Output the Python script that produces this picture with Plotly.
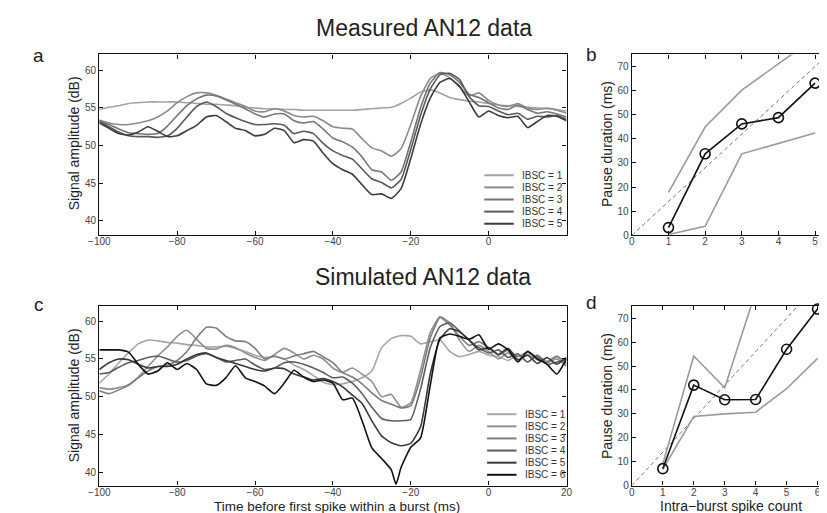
import plotly.graph_objects as go

# time axis (ms before first spike within a burst)
t = [-100, -97.5, -95, -92.5, -90, -87.5, -85, -82.5, -80, -77.5, -75, -72.5, -70,
     -67.5, -65, -62.5, -60, -57.5, -55, -52.5, -50, -47.5, -45, -42.5, -40, -37.5,
     -35, -32.5, -30, -27.5, -25, -22.5, -20, -17.5, -15, -12.5, -10, -7.5, -5, -2.5,
     0, 2.5, 5, 7.5, 10, 12.5, 15, 17.5, 20]

# measured AN12 data (dB), IBSC = 1..5
meas_1 = [54.8, 55.1, 55.3, 55.6, 55.7, 55.8, 55.8, 55.8, 55.8, 55.7, 55.6, 55.5, 55.5,
          55.4, 55.3, 55.1, 55.0, 54.9, 54.9, 54.8, 54.8, 54.7, 54.7, 54.7, 54.7, 54.7,
          54.7, 54.8, 54.9, 55.0, 55.1, 55.6, 56.3, 57.1, 57.4, 57.0, 56.4, 56.1, 55.9, 55.8,
          55.6, 55.4, 55.3, 55.2, 55.1, 55.0, 54.9, 54.8, 54.6]
meas_2 = [53.4, 53.0, 52.8, 52.8, 53.0, 53.3, 53.8, 54.6, 55.7, 56.5, 57.0, 57.0, 56.7,
          56.2, 55.7, 55.2, 54.6, 54.5, 54.9, 54.6, 54.0, 53.8, 53.9, 53.3, 52.5, 52.3,
          52.2, 50.9, 49.7, 49.3, 48.6, 49.6, 52.8, 56.5, 58.9, 59.6, 59.0, 57.8, 56.6, 57.0,
          56.0, 55.4, 55.2, 55.6, 55.0, 54.8, 55.0, 54.7, 54.3]
meas_3 = [53.3, 52.8, 52.2, 51.7, 51.6, 51.5, 51.6, 52.6, 54.0, 55.3, 56.2, 56.7, 56.6,
          56.1, 55.5, 54.9, 54.2, 53.8, 54.2, 54.2, 53.3, 53.0, 53.2, 52.2, 51.0, 50.5,
          49.8, 48.5, 46.8, 46.5, 45.4, 46.5, 50.5, 55.0, 58.3, 59.7, 59.4, 58.4, 56.8, 56.4,
          55.7, 55.0, 54.8, 55.4, 54.8, 54.3, 54.5, 54.2, 53.8]
meas_4 = [53.2, 52.5, 51.8, 51.3, 51.2, 51.2, 51.1, 51.3, 52.3, 53.8, 55.2, 55.8, 55.2,
          54.3, 53.7, 53.2, 52.8, 52.8, 52.9, 52.7, 51.6, 51.9, 51.6, 50.3, 49.3, 48.7,
          48.2, 46.9, 45.6, 45.1, 44.4, 45.5, 49.5, 54.0, 57.5, 59.4, 59.6, 58.8, 56.5, 55.3,
          55.2, 54.6, 54.1, 54.3, 53.5, 53.9, 53.8, 54.0, 53.5]
meas_5 = [53.0, 52.3, 51.6, 51.4, 51.8, 52.5, 51.9, 51.2, 51.3, 52.0, 52.7, 53.8, 54.0,
          53.2, 52.3, 52.0, 51.3, 51.5, 52.3, 52.0, 50.4, 50.8, 50.6, 49.0, 47.6, 46.8,
          46.2, 44.8, 43.5, 43.6, 43.0, 44.3, 48.3, 52.8, 56.3, 58.4, 58.9, 57.9, 55.8, 53.8,
          54.6, 54.0, 53.7, 53.9, 52.4, 53.2, 54.0, 53.9, 53.3]

# simulated AN12 data (dB), IBSC = 1..6
sim_1 = [51.8, 53.0, 54.5, 55.8, 57.0, 57.5, 57.4, 57.2, 57.1, 56.9, 56.8, 56.6, 56.6,
         56.7, 56.4, 56.0, 55.5, 55.2, 55.3, 55.0, 54.2, 53.6, 52.8, 51.9, 51.6, 51.7,
         52.0, 52.5, 53.4, 56.5, 57.7, 58.1, 58.0, 57.0, 57.3, 57.5, 56.0, 55.3, 55.6, 56.0,
         55.5, 55.3, 54.8, 55.5, 54.6, 55.4, 54.7, 55.2, 54.2]
sim_2 = [51.2, 51.0, 51.2, 51.6, 52.6, 54.0, 55.4, 56.6, 58.0, 58.8, 57.6, 56.4, 56.3,
         56.8, 56.5, 55.8, 55.2, 54.8, 55.6, 56.4, 55.8, 55.0, 55.5, 55.0, 53.8, 53.2,
         53.8, 53.0, 52.0, 50.0, 50.3, 48.6, 49.2, 53.5, 58.5, 60.6, 59.8, 57.5, 56.0, 56.8,
         56.0, 55.0, 55.8, 54.8, 55.6, 54.9, 54.5, 55.0, 54.0]
sim_3 = [50.8, 50.4, 50.9, 51.5, 52.5, 53.4, 54.0, 54.2, 54.8, 56.0, 57.8, 59.2, 59.1,
         58.0, 57.4, 57.3, 56.4, 55.0, 55.4, 55.0, 55.4, 55.7, 56.0, 55.3, 54.5, 53.2,
         52.6, 51.7, 50.5, 49.5, 49.0, 48.5, 48.8, 52.5, 57.8, 60.5, 59.5, 58.0, 56.8, 57.3,
         56.5, 55.5, 56.2, 55.3, 55.9, 55.2, 54.6, 55.4, 54.4]
sim_4 = [53.0, 53.2, 53.9, 54.5, 54.8, 55.2, 55.4, 55.0, 54.6, 54.8, 55.4, 55.7, 55.2,
         54.6, 54.8, 55.0, 54.2, 53.6, 53.8, 54.5, 54.6, 54.3, 53.8, 53.2, 52.5, 52.6,
         51.8, 50.4, 48.6, 47.1, 46.8, 46.8, 47.0, 51.0, 56.5, 59.3, 59.8, 58.7, 57.5, 56.5,
         55.8, 56.2, 55.2, 55.7, 54.6, 55.5, 54.3, 54.6, 55.0]
sim_5 = [53.6, 54.5, 55.0, 54.9, 54.3, 53.8, 54.0, 54.0, 54.3, 55.0, 55.6, 55.8, 55.2,
         54.8, 54.4, 54.0, 53.6, 53.4, 53.8, 53.7, 53.0, 52.6, 52.2, 52.4, 52.0, 51.3,
         50.2, 49.1, 46.8, 44.8, 43.9, 43.5, 43.8, 46.0, 53.0, 57.6, 59.0, 58.6, 57.5, 56.2,
         56.5, 55.6, 56.4, 54.9, 55.5, 54.4, 55.2, 54.3, 55.2]
t_6 = [-100, -97.5, -95, -92.5, -90, -87.5, -85, -82.5, -80, -77.5, -75, -72.5, -70,
       -67.5, -65, -62.5, -60, -57.5, -55, -52.5, -50, -47.5, -45, -42.5, -40, -37.5,
       -35, -32.5, -30, -27.5, -25, -23.8, -22.5, -20, -17.5, -15, -12.5, -10, -7.5, -5,
       -2.5, 0, 2.5, 5, 7.5, 10, 12.5, 15, 17.5, 20]
sim_6 = [56.2, 56.2, 56.2, 55.9, 54.3, 53.0, 53.4, 54.5, 53.6, 54.4, 53.6, 51.7, 51.5,
         52.5, 54.1, 52.5, 52.0, 51.4, 50.4, 51.8, 53.5, 52.6, 52.0, 52.2, 51.8, 49.6,
         49.8, 46.8, 43.2, 41.8, 40.3, 38.4, 40.6, 43.3, 44.5, 51.5, 57.8, 58.3, 58.0, 57.6,
         58.2, 56.3, 57.0, 56.2, 54.6, 56.0, 55.0, 54.3, 53.0, 55.0]

# pause duration (ms) vs intra-burst spike count
ibsc_b = [1, 2, 3, 4, 5]
pause_b = [3.2, 33.8, 46.2, 48.8, 63.1]
upper_b = [17.8, 44.9, 60.2, 71.1, 82.0]
lower_b = [0.3, 3.7, 33.8, 38.2, 42.4]

ibsc_d = [1, 2, 3, 4, 5, 6]
pause_d = [7.1, 42.0, 35.9, 36.0, 57.0, 73.8]
upper_d = [9.0, 54.2, 40.9, 81.0, 90.0, 100.0]
lower_d = [6.8, 28.9, 30.0, 30.7, 40.5, 53.2]

diag_x = [0, 6.5]
diag_y = [0, 91]

meas_curves = [meas_1, meas_2, meas_3, meas_4, meas_5]
sim_curves = [(t, sim_1), (t, sim_2), (t, sim_3), (t, sim_4), (t, sim_5), (t_6, sim_6)]
meas_cols = ["#a2a2a2", "#8b8b8b", "#747474", "#5a5a5a", "#3c3c3c"]
sim_cols = ["#a6a6a6", "#909090", "#7c7c7c", "#5e5e5e", "#383838", "#121212"]

FONT = "Liberation Sans, Arial, sans-serif"

fig = go.Figure()

for vals, c in zip(meas_curves, meas_cols):
    fig.add_trace(go.Scatter(x=t, y=vals, mode="lines", xaxis="x", yaxis="y",
                             line=dict(color=c, width=1.6, shape="spline", smoothing=0.5)))
for (tt, vals), c in zip(sim_curves, sim_cols):
    fig.add_trace(go.Scatter(x=tt, y=vals, mode="lines", xaxis="x3", yaxis="y3",
                             line=dict(color=c, width=1.6, shape="spline", smoothing=0.5)))

for xa, ya, xs, pm, up, lo in [("x2", "y2", ibsc_b, pause_b, upper_b, lower_b),
                               ("x4", "y4", ibsc_d, pause_d, upper_d, lower_d)]:
    fig.add_trace(go.Scatter(x=diag_x, y=diag_y, mode="lines", xaxis=xa, yaxis=ya,
                             line=dict(color="#666", width=0.9, dash="4px,3px")))
    fig.add_trace(go.Scatter(x=xs, y=up, mode="lines", xaxis=xa, yaxis=ya,
                             line=dict(color="#9a9a9a", width=1.6)))
    fig.add_trace(go.Scatter(x=xs, y=lo, mode="lines", xaxis=xa, yaxis=ya,
                             line=dict(color="#9a9a9a", width=1.6)))
    fig.add_trace(go.Scatter(x=xs, y=pm, mode="lines+markers", xaxis=xa, yaxis=ya,
                             line=dict(color="#111", width=1.6),
                             marker=dict(symbol="circle-open", size=10, color="#111",
                                         line=dict(width=1.6)),
                             cliponaxis=False))

ax = dict(showline=True, linecolor="#111", linewidth=1.3, mirror="ticks",
          ticks="inside", ticklen=4, tickcolor="#111", tickwidth=1, showgrid=False,
          zeroline=False, tickfont=dict(family=FONT, size=10, color="#444"))
xax = dict(ax, ticklabelstandoff=-3)

xa_dom = [82 / 827, 559 / 827]
xb_dom = [625.7 / 827, 1.0]
top_dom = [1 - 230 / 513, 1 - 47 / 513]
bot_dom = [1 - 483.3 / 513, 1 - 301.7 / 513]

fig.update_layout(
    width=827, height=513, margin=dict(l=0, r=0, t=0, b=0),
    paper_bgcolor="white", plot_bgcolor="white", showlegend=False,
    font=dict(family=FONT, color="#222"),
    xaxis=dict(xax, domain=xa_dom, range=[-100, 20], tickvals=[-100, -80, -60, -40, -20, 0], anchor="y"),
    yaxis=dict(ax, domain=top_dom, range=[38.1, 62.1], tickvals=[40, 45, 50, 55, 60], anchor="x"),
    xaxis2=dict(xax, domain=xb_dom, range=[0, 5.38], tickvals=[0, 1, 2, 3, 4, 5], anchor="y2"),
    yaxis2=dict(ax, domain=top_dom, range=[0, 75], tickvals=[0, 10, 20, 30, 40, 50, 60, 70], anchor="x2"),
    xaxis3=dict(xax, domain=xa_dom, range=[-100, 20], tickvals=[-100, -80, -60, -40, -20, 0, 20], anchor="y3"),
    yaxis3=dict(ax, domain=bot_dom, range=[38.2, 62], tickvals=[40, 45, 50, 55, 60], anchor="x3"),
    xaxis4=dict(xax, domain=xb_dom, range=[0, 6.37], tickvals=[0, 1, 2, 3, 4, 5, 6], anchor="y4"),
    yaxis4=dict(ax, domain=bot_dom, range=[0, 75], tickvals=[0, 10, 20, 30, 40, 50, 60, 70], anchor="x4"),
)

ann = []
def txt(x, y, s, size, angle=0, color="#222"):
    ann.append(dict(x=x / 827, y=1 - y / 513, xref="paper", yref="paper", text=s,
                    showarrow=False, xanchor="center", yanchor="middle", textangle=angle,
                    font=dict(family=FONT, size=size, color=color)))

txt(413, 20, "Measured AN12 data", 23)
txt(412, 272, "Simulated AN12 data", 23)
txt(20, 48, "a", 19)
txt(585, 47, "b", 19)
txt(20, 300, "c", 19)
txt(585, 298, "d", 19)
txt(57, 137, "Signal amplitude (dB)", 14, -90)
txt(57, 392, "Signal amplitude (dB)", 14, -90)
txt(601, 138, "Pause duration (ms)", 14, -90)
txt(601, 393, "Pause duration (ms)", 14, -90)
txt(325, 504, "Time before first spike within a burst (ms)", 13.5)
txt(727, 503.5, "Intra\u2212burst spike count", 14)

# in-axes legends
shapes = []
for xr, yr, cols, y0, step, x0 in [("x", "y", meas_cols, 0.332, 0.067, 0.824),
                                   ("x3", "y3", sim_cols, 0.398, 0.0675, 0.830)]:
    for i, c in enumerate(cols):
        yy = y0 - i * step
        shapes.append(dict(type="line", xref=xr + " domain", yref=yr + " domain",
                           x0=x0, x1=x0 + 0.063, y0=yy, y1=yy,
                           line=dict(color=c, width=2)))
        ann.append(dict(x=x0 + 0.077, y=yy, xref=xr + " domain", yref=yr + " domain",
                        text="IBSC = %d" % (i + 1), showarrow=False, xanchor="left",
                        yanchor="middle", font=dict(family=FONT, size=10, color="#333")))

fig.update_layout(annotations=ann, shapes=shapes)
fig.write_html("out.html")
